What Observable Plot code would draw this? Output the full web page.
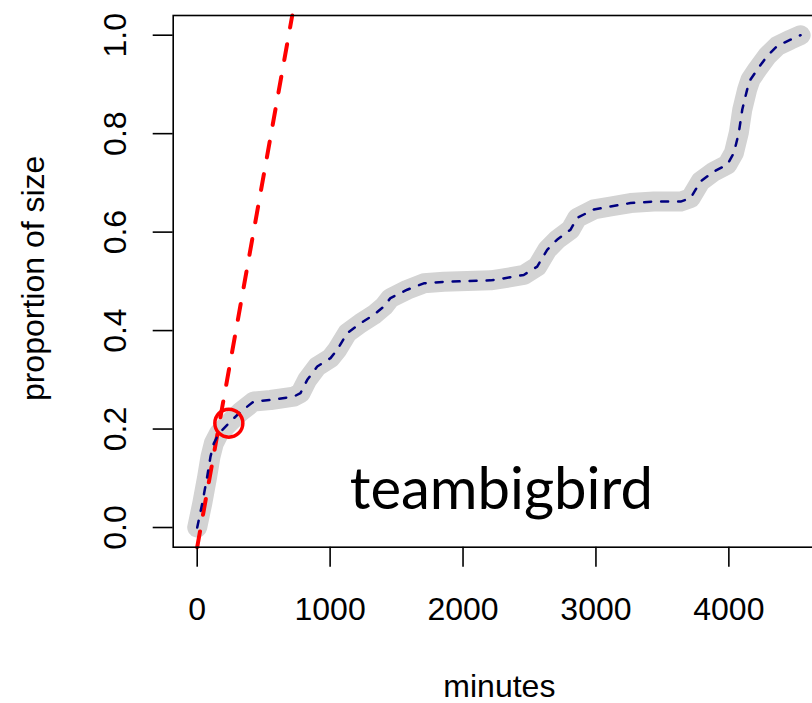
<!DOCTYPE html>
<html><head><meta charset="utf-8">
<script src="https://cdn.jsdelivr.net/npm/d3@7"></script>
<script src="https://cdn.jsdelivr.net/npm/@observablehq/plot@0.6"></script>
<style>html,body{margin:0;padding:0;background:#fff;overflow:hidden;width:812px;height:703px}svg{max-width:none !important}</style>
</head><body><div id="chart"></div>
<script>
// cumulative progress curve (minutes vs proportion of size)
const minutes = [0, 38, 75, 100, 125, 163, 238, 326, 426, 552, 727, 777, 828, 903, 1003, 1053, 1129, 1229, 1329, 1404, 1454, 1580, 1705, 1855, 2207, 2282, 2457, 2558, 2633, 2709, 2809, 2859, 2984, 3110, 3260, 3436, 3637, 3712, 3787, 3887, 3988, 4038, 4075, 4101, 4138, 4163, 4213, 4289, 4364, 4464, 4540];
const proportion = [0, 0.049, 0.103, 0.144, 0.171, 0.191, 0.212, 0.235, 0.256, 0.259, 0.266, 0.273, 0.300, 0.327, 0.344, 0.361, 0.395, 0.415, 0.432, 0.449, 0.466, 0.483, 0.496, 0.499, 0.502, 0.505, 0.513, 0.530, 0.564, 0.585, 0.605, 0.629, 0.646, 0.652, 0.659, 0.662, 0.662, 0.669, 0.703, 0.723, 0.737, 0.761, 0.802, 0.849, 0.890, 0.910, 0.930, 0.958, 0.978, 0.991, 1.0];
// initial-rate line
const rateMinutes = [0, 715];
const rateProportion = [-0.04, 1.04];
// marked point
const markedMinutes = [238];
const markedProportion = [0.212];
const xTicks = [0, 1000, 2000, 3000, 4000];
const yTicks = [0, 0.2, 0.4, 0.6, 0.8, 1.0];
const xLabel = "minutes";
const yLabel = "proportion of size";
const teamName = "teambigbird";

const curve = minutes.map((m, i) => ({m, p: proportion[i]}));
const rate = rateMinutes.map((m, i) => ({m, p: rateProportion[i]}));
const marked = markedMinutes.map((m, i) => ({m, p: markedProportion[i]}));

const chart = Plot.plot({
  width: 821, height: 703,
  marginLeft: 172.7, marginRight: 0, marginTop: 15, marginBottom: 156.3,
  style: {fontFamily: "'Liberation Sans', Arial, Helvetica, sans-serif", fontSize: "32px", background: "white", color: "black", overflow: "visible", maxWidth: "none"},
  x: {domain: [-180.6, 4697]},
  y: {domain: [-0.04, 1.04]},
  marks: [
    Plot.line(curve, {x: "m", y: "p", stroke: "#d3d3d3", strokeWidth: 20, strokeLinecap: "round", strokeLinejoin: "round"}),
    Plot.line(rate, {x: "m", y: "p", stroke: "#ff0000", strokeWidth: 4, strokeDasharray: "16,17"}),
    Plot.line(curve, {x: "m", y: "p", stroke: "#000080", strokeWidth: 2.5, strokeDasharray: "7,10"}),
    Plot.dot(marked, {x: "m", y: "p", r: 14, stroke: "#ff0000", strokeWidth: 3.5, fill: "none"}),
    Plot.frame({stroke: "black", strokeWidth: 1.6}),
    Plot.axisX({ticks: xTicks, tickSize: 20, tickPadding: 30, fontSize: 32, label: null, strokeWidth: 1.6, tickFormat: d => String(d)}),
    Plot.axisY({ticks: yTicks, tickSize: 20, tickRotate: -90, textAnchor: "middle", lineAnchor: "bottom", tickPadding: 27.7, fontSize: 32, label: null, strokeWidth: 1.6, tickFormat: d => d.toFixed(1)}),
    Plot.text([xLabel], {text: d => d, frameAnchor: "bottom", dx: 2, dy: 140, lineAnchor: "middle", fontSize: 32}),
    Plot.text([yLabel], {text: d => d, frameAnchor: "left", dx: -129.4, dy: -3, rotate: -90, textAnchor: "middle", lineAnchor: "bottom", fontSize: 32}),
    Plot.text([teamName], {text: d => d, frameAnchor: "bottom", dx: 4, dy: -38.7, lineAnchor: "bottom", fontFamily: "Lato", fontSize: 58})
  ]
});
document.getElementById("chart").appendChild(chart);
</script>
</body></html>
